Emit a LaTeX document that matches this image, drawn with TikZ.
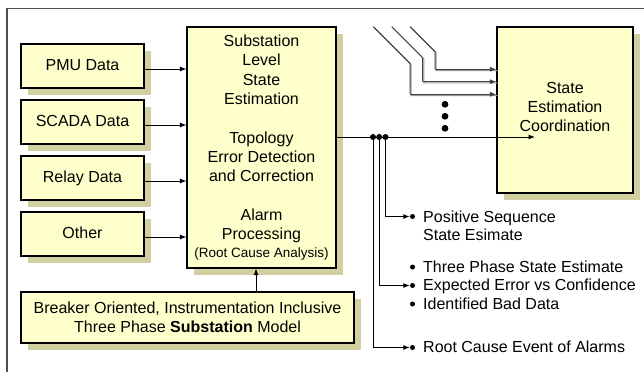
\documentclass[tikz,border=0pt]{standalone}
\usepackage{fontspec}
\setmainfont{Liberation Sans}
\usetikzlibrary{arrows.meta,shadows}

\definecolor{boxfill}{HTML}{FFFFCC}
\definecolor{boxshade}{HTML}{D2CFA0}
\definecolor{framegray}{HTML}{505050}
\definecolor{feedgray}{HTML}{9A9A9A}

\begin{document}
\begin{tikzpicture}[x=1pt,y=-1pt,
  every node/.style={font=\fontsize{16}{19.3}\selectfont},
  blk/.style={draw=black, line width=1.1pt, fill=boxfill, inner sep=0pt, align=center,
    drop shadow={shadow xshift=7pt, shadow yshift=-7pt, fill=boxshade, draw=none, opacity=1}},
  srcbox/.style={blk, minimum width=123pt, minimum height=44pt, text height=11.5pt, text depth=3.4pt},
  arr/.style={line width=0.9pt, -{Latex[length=6.5pt,width=5pt]}},
  feed/.style={line width=1pt, draw=black!75},
  feedshade/.style={line width=1pt, draw=feedgray},
  lbl/.style={anchor=base west, inner sep=0pt},
  bul/.style={circle, fill=black, inner sep=0pt, minimum size=5pt},
  jdot/.style={circle, fill=black, inner sep=0pt, minimum size=6pt},
  bigdot/.style={circle, fill=black, inner sep=0pt, minimum size=6.8pt}
]
\useasboundingbox (0,0) rectangle (644,372);
\fill[white] (0,0) rectangle (644,372);

% outer frame (top and left edges)
\draw[framegray, line width=1.4pt] (7,372) -- (7,8.5) -- (644,8.5);

% data sources
\node[srcbox] (pmu)   at (82.5,66)  {PMU Data};
\node[srcbox] (scada) at (82.5,122) {SCADA Data};
\node[srcbox] (relay) at (82.5,178) {Relay Data};
\node[srcbox] (other) at (82.5,234) {Other};

% substation level processing
\node[blk, minimum width=149pt, minimum height=241pt] (main) at (261.5,147.5)
  {Substation\\Level\\State\\Estimation\\[19.3pt]Topology\\Error Detection\\and Correction\\[19.3pt]Alarm\\Processing\\[-1.5pt]{\fontsize{13.5}{16}\selectfont (Root Cause Analysis)}};

% substation model
\node[blk, minimum width=333pt, minimum height=51pt] (model) at (187.5,317.5)
  {Breaker Oriented, Instrumentation Inclusive\\[-0.3pt]Three Phase \textbf{Substation} Model};

% coordination box
\node[blk, minimum width=136pt, minimum height=166pt] (coord) at (565,110) {};
\node[inner sep=0pt, align=center] (coordtxt) at (565,107) {State\\Estimation\\Coordination};

% inputs
\foreach \s in {pmu,scada,relay,other}
  \draw[arr] ([yshift=-3pt]\s.east) -- ([yshift=-3pt]\s.east -| main.west);
\coordinate (mup) at ([xshift=-5.5pt]main.south);
\draw[arr] (model.north -| mup) -- (mup);

% feeds from other substations
\coordinate (fa0) at (373.3,26.7); \coordinate (fa1) at (410,63.4);   \coordinate (fa2) at (410,94.3);
\coordinate (fb0) at (391.7,26.7); \coordinate (fb1) at (422.7,57.7); \coordinate (fb2) at (422.7,81.7);
\coordinate (fc0) at (410,26.7);   \coordinate (fc1) at (435,51.7);   \coordinate (fc2) at (435,69.3);
\foreach \f in {a,b,c}{
  \draw[feedshade, transform canvas={xshift=1.2pt,yshift=-1.2pt}]
    (f\f0) -- (f\f1) -- (f\f2) -- (f\f2 -| coord.west);
  \draw[feed] (f\f0) -- (f\f1) -- (f\f2);
  \draw[arr, black!75] (f\f2) -- (f\f2 -| coord.west);
}
\node[bigdot] (d1) at (445,104.3) {};
\node[bigdot] (d2) at (445,116.3) {};
\node[bigdot] (d3) at (445,128.3) {};

% substation output
\coordinate (out) at ([yshift=10.5pt]main.east);
\coordinate (cin) at (535,137);
\draw[arr] (out) -- (cin);

% output bullets and labels
\node[bul] (b1) at (412.5,216.5) {};
\node[bul] (b3) at (412.5,267) {};
\node[bul] (b4) at (412.5,285.5) {};
\node[bul] (b5) at (412.5,304) {};
\node[bul] (b6) at (412.5,347.5) {};
\node[lbl] (t1)  at (423,222)   {Positive Sequence};
\node[lbl] (t1b) at (423,240)   {State Esimate};
\node[lbl] (t3)  at (423,272.5) {Three Phase State Estimate};
\node[lbl] (t4)  at (423,290.7) {Expected Error vs Confidence};
\node[lbl] (t5)  at (423,309.3) {Identified Bad Data};
\node[lbl] (t6)  at (423,352.5) {Root Cause Event of Alarms};

% branch taps
\coordinate (j1) at (373,137);
\coordinate (j2) at (379.2,137);
\coordinate (j3) at (385.5,137);
\draw[arr] (j3) |- (b1.west);
\draw[arr] (j2) |- (b4.west);
\draw[arr] (j1) |- (b6.west);
\node[jdot] (jd1) at (j1) {};
\node[jdot] (jd2) at (j2) {};
\node[jdot] (jd3) at (j3) {};
\end{tikzpicture}
\end{document}
